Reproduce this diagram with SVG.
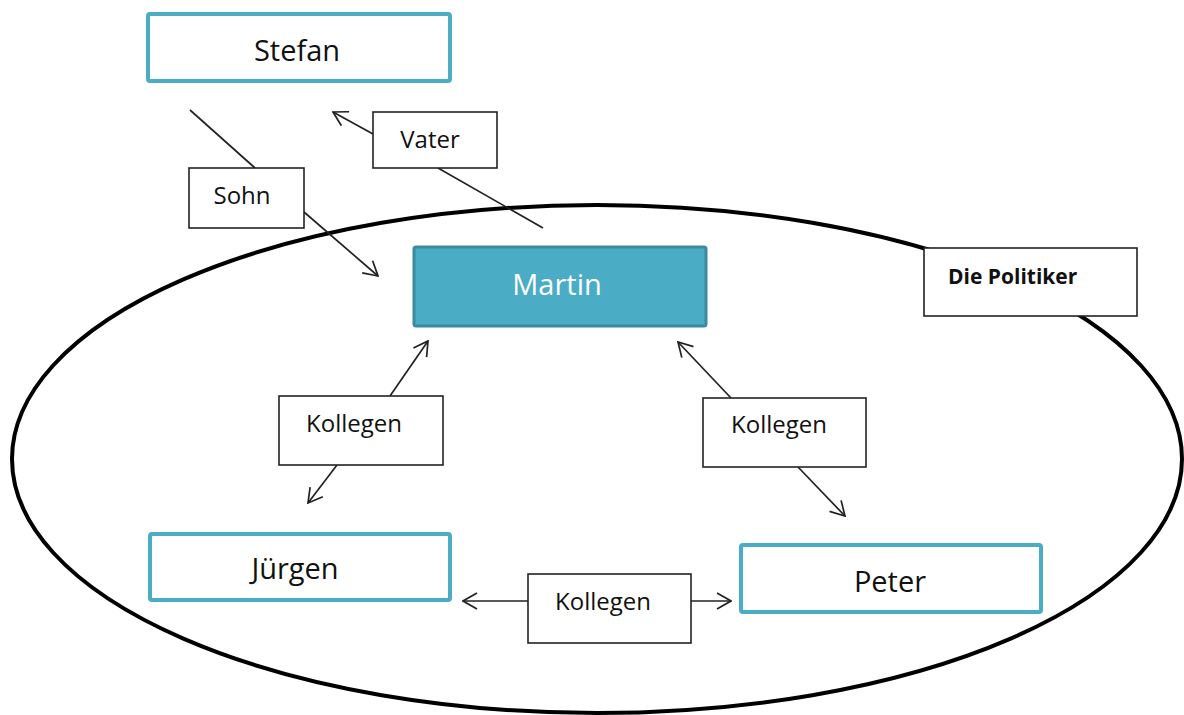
<svg xmlns="http://www.w3.org/2000/svg" width="1184" height="715" viewBox="0 0 1184 715">
<style>
.node{fill:#fff;stroke:#4BACC6;stroke-width:4}
.lbl{fill:#fff;stroke:#222;stroke-width:1.6}
.t{font-family:"Open Sans","Liberation Sans",sans-serif;fill:#111;text-anchor:middle}
.big{font-size:29px}
.mid{font-size:24px}
.ln{stroke:#222;stroke-width:1.7;fill:none}
</style>
<defs>
<marker id="arr" viewBox="0 0 16 18" refX="15" refY="9" markerWidth="16" markerHeight="18" markerUnits="userSpaceOnUse" orient="auto">
<path d="M1,1 L15,9 L1,17" fill="none" stroke="#222" stroke-width="1.7"/>
</marker>
</defs>
<rect width="1184" height="715" fill="#fff"/>
<ellipse id="group-politiker" cx="597" cy="459" rx="585" ry="254" fill="none" stroke="#000" stroke-width="4"/>
<g id="connectors">
<line class="ln" x1="190" y1="110" x2="255" y2="168"/>
<line class="ln" x1="304" y1="212" x2="378" y2="276" marker-end="url(#arr)"/>
<line class="ln" x1="543" y1="228" x2="438" y2="168"/>
<line class="ln" x1="373" y1="134" x2="333" y2="112" marker-end="url(#arr)"/>
<line class="ln" x1="390" y1="396" x2="428" y2="341" marker-end="url(#arr)"/>
<line class="ln" x1="337" y1="465" x2="308" y2="503" marker-end="url(#arr)"/>
<line class="ln" x1="731" y1="398" x2="678" y2="342" marker-end="url(#arr)"/>
<line class="ln" x1="798" y1="467" x2="845" y2="516" marker-end="url(#arr)"/>
<line class="ln" x1="528" y1="601" x2="463" y2="601" marker-end="url(#arr)"/>
<line class="ln" x1="691" y1="601" x2="731" y2="601" marker-end="url(#arr)"/>
</g>
<g id="stefan">
<rect class="node" x="148" y="14" width="302" height="67" rx="2"/>
<text class="t big" x="297" y="61">Stefan</text>
</g>
<g id="martin">
<rect x="414" y="247" width="292" height="79" rx="2" fill="#4BACC6" stroke="#3A8AA0" stroke-width="3"/>
<text class="t big" x="557" y="295" style="fill:#fff">Martin</text>
</g>
<g id="juergen">
<rect class="node" x="150" y="534" width="300" height="66" rx="2"/>
<text class="t big" x="295" y="579">Jürgen</text>
</g>
<g id="peter">
<rect class="node" x="741" y="545" width="300" height="67" rx="2"/>
<text class="t big" x="890" y="592">Peter</text>
</g>
<g id="label-vater">
<rect class="lbl" x="373" y="112" width="124" height="56"/>
<text class="t mid" x="430" y="148">Vater</text>
</g>
<g id="label-sohn">
<rect class="lbl" x="189" y="168" width="115" height="60"/>
<text class="t mid" x="242" y="204">Sohn</text>
</g>
<g id="label-politiker">
<rect class="lbl" x="924" y="248" width="213" height="68"/>
<text x="948" y="284" font-family="Open Sans, Liberation Sans, sans-serif" font-size="21" font-weight="bold" fill="#111">Die Politiker</text>
</g>
<g id="label-kollegen-left">
<rect class="lbl" x="279" y="396" width="164" height="69"/>
<text class="t mid" x="354" y="432">Kollegen</text>
</g>
<g id="label-kollegen-right">
<rect class="lbl" x="703" y="398" width="163" height="69"/>
<text class="t mid" x="779" y="433">Kollegen</text>
</g>
<g id="label-kollegen-bottom">
<rect class="lbl" x="528" y="574" width="163" height="69"/>
<text class="t mid" x="603" y="610">Kollegen</text>
</g>
</svg>
